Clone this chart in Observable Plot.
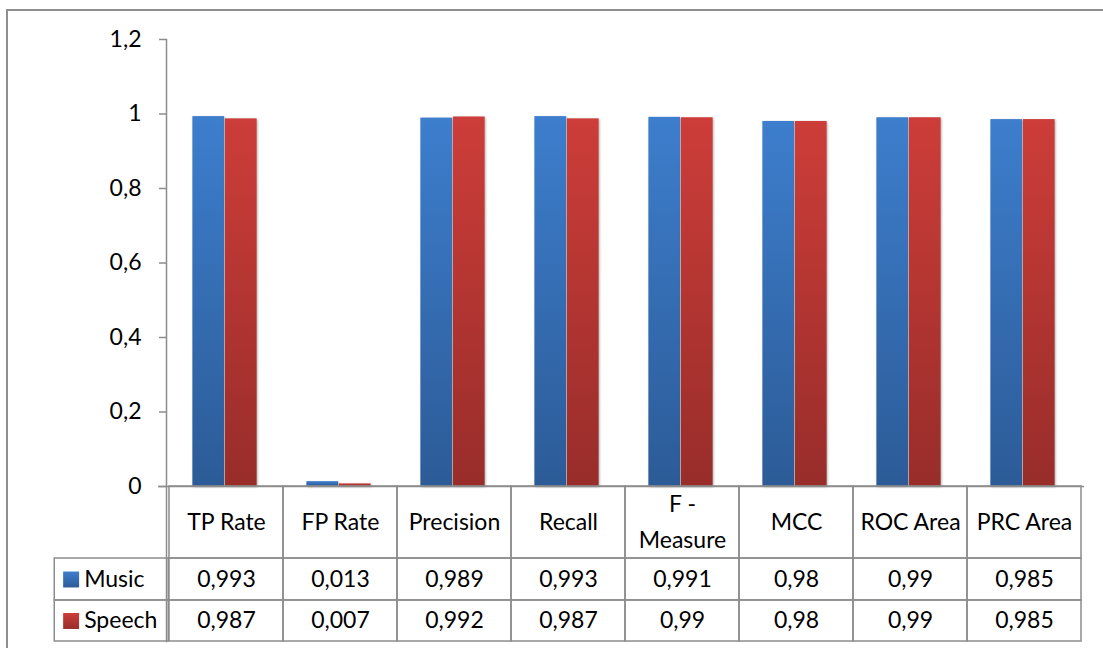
<!DOCTYPE html>
<html>
<head>
<meta charset="utf-8">
<script src="https://cdn.jsdelivr.net/npm/d3@7"></script>
<script src="https://cdn.jsdelivr.net/npm/@observablehq/plot@0.6"></script>
<style>
  body { margin: 0; background: #fff; }
  #chart { position: relative; width: 1103px; height: 648px; overflow: hidden; }
  #border { position: absolute; left: 6px; top: 9px; right: -10px; bottom: -10px;
            border-left: 2px solid #8f8f8f; border-top: 2px solid #8f8f8f; }
  #chart svg { position: absolute; left: 0; top: 0; }
</style>
</head>
<body>
<div id="chart"><div id="border"></div></div>
<script>
// Classification metrics per class
const metrics = ["TP Rate", "FP Rate", "Precision", "Recall", "F -\nMeasure", "MCC", "ROC Area", "PRC Area"];
const seriesNames = ["Music", "Speech"];
const music  = [0.993, 0.013, 0.989, 0.993, 0.991, 0.98, 0.99, 0.985];
const speech = [0.987, 0.007, 0.992, 0.987, 0.99, 0.98, 0.99, 0.985];
const yTicks = [0, 0.2, 0.4, 0.6, 0.8, 1, 1.2];

const seriesValues = {Music: music, Speech: speech};
const gradId = {Music: "grad-music", Speech: "grad-speech"};

// Long-format rows shared by the bars and the data table
const rows = metrics.flatMap((m, i) =>
  seriesNames.map(s => ({metric: m, series: s, value: seriesValues[s][i]})));

// Data table rows live below zero on the y scale
const tableRows = {header: [0, -0.1933], Music: [-0.1933, -0.306], Speech: [-0.306, -0.4161]};
const mid = r => (r[0] + r[1]) / 2;
const fmt = v => String(v).replace(".", ",");

const gray = "#8c8c8c";
const band = (1103 - 166 - 19) / metrics.length;   // column width in px
const half = band / 2;
const barW = 32.5;

const cells = metrics.flatMap(m =>
  ["header", ...seriesNames].map(r => ({metric: m, y1: tableRows[r][0], y2: tableRows[r][1]})));
const legendCells = seriesNames.map(s => ({metric: metrics[0], y1: tableRows[s][0], y2: tableRows[s][1]}));

const plot = Plot.plot({
  width: 1103,
  height: 648,
  marginTop: 39,
  marginBottom: 7,
  marginLeft: 166,
  marginRight: 19,
  style: {fontFamily: "Lato, sans-serif", fontSize: "23px", color: "#000", background: "transparent"},
  x: {domain: metrics, padding: 0, axis: null},
  y: {domain: [-0.4161, 1.2], axis: null},
  marks: [
    Plot.barY(rows.filter(d => d.series === "Music"),
      {x: "metric", y: "value", fill: "url(#grad-music)", insetLeft: half - barW - 1.5, insetRight: half + 1.5}),
    Plot.barY(rows.filter(d => d.series === "Speech"),
      {x: "metric", y: "value", fill: "url(#grad-speech)", insetLeft: half - 1.5, insetRight: half - barW + 1.5}),
    Plot.axisY({ticks: yTicks, tickSize: 7, text: null, stroke: gray, strokeWidth: 1.5}),
    Plot.axisY({ticks: yTicks, tickSize: 0, tickPadding: 25, tickFormat: fmt, fontSize: 23, fill: "#000"}),
    Plot.ruleY([0], {stroke: gray, strokeWidth: 1.5, insetLeft: -8}),
    Plot.frame({anchor: "left", stroke: gray, strokeWidth: 1.5}),
    // data table grid
    Plot.barY(cells, {x: "metric", y1: "y1", y2: "y2", fill: "none", stroke: gray, strokeWidth: 1.5}),
    Plot.barY(legendCells, {x: "metric", y1: "y1", y2: "y2", fill: "none", stroke: gray, strokeWidth: 1.5,
      insetLeft: -band, insetRight: band}),
    // header labels
    Plot.text(metrics, {x: d => d, y: () => mid(tableRows.header), text: d => d, lineHeight: 1.57, dy: -4,
      fontSize: 23, fill: "#000"}),
    // values
    Plot.text(rows, {x: "metric", y: d => mid(tableRows[d.series]), text: d => fmt(d.value), fontSize: 23, fill: "#000"}),
    // legend keys
    ...seriesNames.map(s => Plot.dot([s], {x: () => metrics[0], y: () => mid(tableRows[s]), symbol: "square", r: 9,
      fill: `url(#${gradId[s]})`, stroke: "none", dx: 68 - (166 + half)})),
    Plot.text(seriesNames, {x: () => metrics[0], y: s => mid(tableRows[s]), text: d => d, textAnchor: "start",
      dx: 81 - (166 + half), fontSize: 23, fill: "#000"})
  ]
});

// Vertical gradients for the two series
const defs = d3.select(plot).insert("defs", ":first-child");
[["grad-music", "#3d7ecd", "#2c5b97"], ["grad-speech", "#cd3d39", "#982d2a"]].forEach(([id, top, bottom]) => {
  const g = defs.append("linearGradient").attr("id", id).attr("x1", 0).attr("y1", 0).attr("x2", 0).attr("y2", 1);
  g.append("stop").attr("offset", "0%").attr("stop-color", top);
  g.append("stop").attr("offset", "100%").attr("stop-color", bottom);
});

// Soft shadow on the data bars
const barGroups = plot.querySelectorAll('g[aria-label="bar"]');
[barGroups[0], barGroups[1]].forEach(g => g.style.filter = "drop-shadow(1.5px 1px 1px rgba(0,0,0,0.3))");

document.getElementById("chart").appendChild(plot);
</script>
</body>
</html>
